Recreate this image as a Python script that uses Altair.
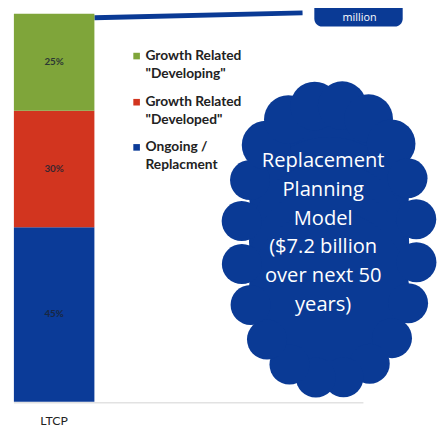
import altair as alt
import pandas as pd
import math

# ---- data ----
category = ["LTCP"]
segments = ["Ongoing / Replacment", 'Growth Related "Developed"', 'Growth Related "Developing"']
shares = [0.45, 0.30, 0.25]
share_labels = ["45%", "30%", "25%"]
colors = ["#0B3B98", "#D2351F", "#7FA53A"]
legend_lines = [("Growth Related", '"Developing"'), ("Growth Related", '"Developed"'), ("Ongoing /", "Replacment")]
legend_colors = ["#7FA53A", "#D2351F", "#0B3B98"]
cloud_text = "Replacement\nPlanning\nModel\n($7.2 billion\nover next 50\nyears)"
callout_text = "million"

df = pd.DataFrame({
    "cat": category * 3,
    "segment": segments,
    "value": shares,
    "label": share_labels,
    "order": [0, 1, 2],
})

W, H = 440, 427
BLUE = "#0A3A95"
xscale = alt.Scale(domain=category, range=[6, 88], paddingInner=0, paddingOuter=0)
yscale = alt.Scale(domain=[0, 1], range=[397, 2])
cscale = alt.Scale(domain=segments, range=colors)

base = alt.Chart(df)

bars = base.mark_bar(stroke=None).encode(
    x=alt.X("cat:N", scale=xscale, axis=None),
    y=alt.Y("value:Q", stack="zero", scale=yscale, axis=None),
    color=alt.Color("segment:N", scale=cscale, legend=None),
    order=alt.Order("order:Q"),
)

labels = base.transform_stack(
    stack="value", groupby=["cat"], as_=["v0", "v1"], sort=[alt.SortField("order")]
).transform_calculate(mid="(datum.v0 + datum.v1) / 2").mark_text(
    font="Lato", fontSize=10, fontWeight="bold", color="#1c2433", opacity=0.85
).encode(
    x=alt.X("cat:N", scale=xscale, axis=None),
    y=alt.Y("mid:Q", scale=yscale, axis=None),
    text="label:N",
)

cat_label = alt.Chart(pd.DataFrame({"cat": category})).mark_text(
    font="Lato", fontSize=12.5, color="#222", baseline="middle"
).encode(
    x=alt.X("cat:N", scale=xscale, axis=None),
    y=alt.value(417),
    text="cat:N",
)

dummy = pd.DataFrame({"a": [0]})

baseline = alt.Chart(dummy).mark_rule(color="#e2e2e2", strokeWidth=1.5).encode(
    x=alt.value(6), x2=alt.value(362), y=alt.value(398), y2=alt.value(398)
)

# legend
legend_layers = []
row_y = [45, 92, 138]
for (l1, l2), col, yy in zip(legend_lines, legend_colors, row_y):
    legend_layers.append(
        alt.Chart(dummy).mark_square(size=45, color=col, opacity=1).encode(
            x=alt.value(131), y=alt.value(yy)
        )
    )
    legend_layers.append(
        alt.Chart(pd.DataFrame({"t": [l1 + "\n" + l2]})).mark_text(
            font="Lato", fontSize=14, fontWeight="bold", color="#222",
            align="left", baseline="middle", lineBreak="\n", lineHeight=18.5
        ).encode(x=alt.value(140), y=alt.value(yy), text="t:N")
    )

# cloud: overlapping circles for the body plus scalloped bumps (plot coords = page - 8)
cx, cy, rx, ry, rb = 327, 234, 90, 140, 23
cloud_layers = []
for dy in (-50, -25, 0, 25, 50):
    cloud_layers.append(
        alt.Chart(dummy).mark_circle(color=BLUE, opacity=1, size=math.pi * 92 * 92).encode(
            x=alt.value(cx), y=alt.value(cy + dy)
        )
    )
n_bumps = 20
for i in range(n_bumps):
    a = 2 * math.pi * i / n_bumps + 0.15
    bx = cx + rx * math.cos(a)
    by = cy + ry * math.sin(a)
    r = rb + (5 if math.sin(a) < -0.6 else 0)
    cloud_layers.append(
        alt.Chart(dummy).mark_circle(color=BLUE, opacity=1, size=math.pi * r * r).encode(
            x=alt.value(bx), y=alt.value(by)
        )
    )

cloud_label = alt.Chart(pd.DataFrame({"t": [cloud_text]})).mark_text(
    font="Open Sans", fontSize=20.5, color="white", align="center", baseline="middle",
    lineBreak="\n", lineHeight=29.3
).encode(x=alt.value(321), y=alt.value(152), text="t:N")

# callout at top
wedge = alt.Chart(dummy).mark_rule(color=BLUE, strokeWidth=5).encode(
    x=alt.value(88), y=alt.value(6), x2=alt.value(300), y2=alt.value(1)
)
box = alt.Chart(dummy).mark_rect(color=BLUE, cornerRadius=8).encode(
    x=alt.value(312), x2=alt.value(402), y=alt.value(-12), y2=alt.value(15)
)
callout = alt.Chart(pd.DataFrame({"t": [callout_text]})).mark_text(
    font="Open Sans", fontSize=11, color="white", align="center", baseline="middle"
).encode(x=alt.value(358), y=alt.value(6), text="t:N")

chart = alt.layer(
    baseline, *cloud_layers, cloud_label, wedge, box, callout,
    bars, labels, cat_label, *legend_layers
).properties(
    width=W, height=H,
    autosize=alt.AutoSizeParams(type="none"),
    padding=0,
).configure_view(stroke=None)

chart.save("out.html", embed_options={"renderer": "svg", "actions": False})
